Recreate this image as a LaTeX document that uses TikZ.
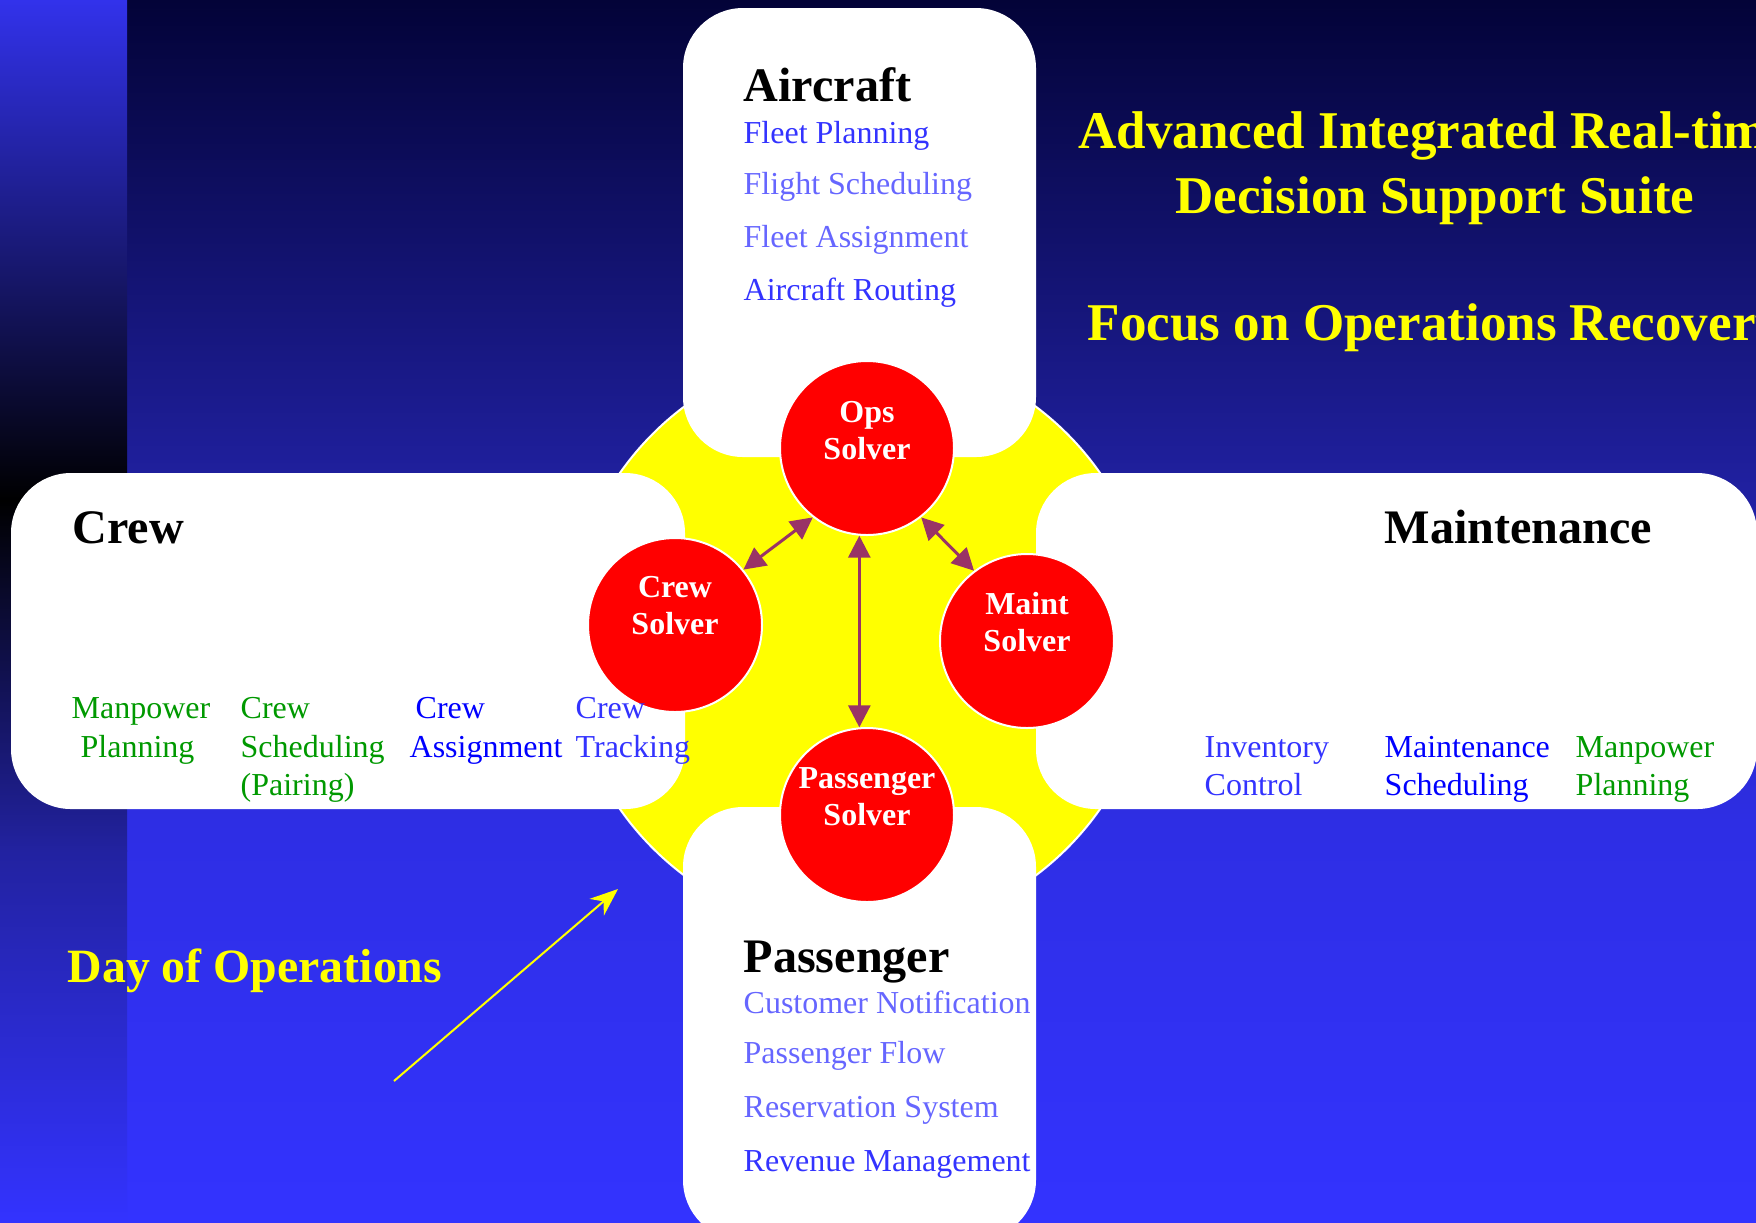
\documentclass[tikz,border=0pt]{standalone}
\usepackage{fontspec}
\setmainfont{Liberation Serif}
\usetikzlibrary{arrows.meta}

\definecolor{navytop}{RGB}{3,3,56}
\definecolor{navymid}{RGB}{31,31,156}
\definecolor{bluelow}{RGB}{46,46,228}
\definecolor{bluebot}{RGB}{51,51,255}
\definecolor{striptop}{RGB}{50,50,235}
\definecolor{stripmid}{RGB}{34,34,160}
\definecolor{hubyellow}{RGB}{255,255,0}
\definecolor{solverred}{RGB}{255,0,0}
\definecolor{linkpurple}{RGB}{153,51,102}
\definecolor{itemblue}{RGB}{51,51,255}
\definecolor{itemlight}{RGB}{102,102,255}
\definecolor{itemdeep}{RGB}{0,0,255}
\definecolor{itemgreen}{RGB}{0,153,0}

\begin{document}
\begin{tikzpicture}[x=0.1mm, y=-0.1mm,
    box/.style={fill=white, rounded corners=6mm},
    solver/.style={circle, fill=solverred, draw=white, line width=0.2mm, minimum size=17.4mm, inner sep=0pt},
    solvertext/.style={text=white, font=\fontsize{9.1}{10.5}\selectfont\bfseries, align=center},
    boxtitle/.style={anchor=base west, inner sep=0pt, font=\fontsize{13.7}{16}\selectfont\bfseries},
    item/.style={anchor=base west, inner sep=0pt, font=\fontsize{9.1}{11}\selectfont},
    headline/.style={anchor=base, inner sep=0pt, text=hubyellow, font=\fontsize{15.1}{18.5}\selectfont\bfseries},
    link/.style={{Triangle[length=2.2mm,width=2.2mm]}-{Triangle[length=2.2mm,width=2.2mm]}, line width=0.3mm, draw=linkpurple},
    dayarrow/.style={-{Stealth[length=2.8mm,width=2.2mm,inset=0.9mm]}, line width=0.2mm, draw=hubyellow, fill=hubyellow}]

    % Picture frame
    \useasboundingbox (0,0) rectangle (1756,1222);
    \clip (0,0) rectangle (1756,1222);

    % Background, main area
    \shade[top color=navytop, bottom color=navymid] (127,0) rectangle (1756,471);
    \shade[top color=navymid, bottom color=bluelow] (127,470) rectangle (1756,821);
    \shade[top color=bluelow, bottom color=bluebot] (127,820) rectangle (1756,1222);

    % Background, left strip
    \shade[top color=striptop, bottom color=black] (0,0) rectangle (127,501);
    \shade[top color=black, bottom color=stripmid] (0,500) rectangle (127,851);
    \shade[top color=stripmid, bottom color=bluebot] (0,850) rectangle (127,1222);

    % Yellow hub behind the boxes
    \draw[fill=hubyellow, draw=white, line width=0.2mm] (860,641) circle [radius=29.3mm];

    % The four boxes
    \fill[box] (683,8) rectangle (1036,457);      % aircraft
    \fill[box] (11,473) rectangle (685,809);      % crew
    \fill[box] (1036,473) rectangle (1757,809);   % maintenance
    \fill[box] (683,807) rectangle (1036,1240);   % passenger

    % Solvers
    \node[solver] (opssolver) at (867,448) {};
    \node[solver] (crewsolver) at (675,625) {};
    \node[solver] (maintsolver) at (1027,641) {};
    \node[solver] (passsolver) at (867,815) {};

    \node[solvertext] (opslabel) at ([yshift=1.7mm]opssolver.center) {Ops\\Solver};
    \node[solvertext] (crewlabel) at ([yshift=1.9mm]crewsolver.center) {Crew\\Solver};
    \node[solvertext] (maintlabel) at ([yshift=1.9mm]maintsolver.center) {Maint\\Solver};
    \node[solvertext] (passlabel) at ([yshift=1.8mm]passsolver.center) {Passenger\\Solver};

    % Links between solvers
    \draw[link] (crewsolver.39) -- (opssolver.232);
    \draw[link] (opssolver.308) -- (maintsolver.127);
    \draw[link] (opssolver.265) -- (passsolver.95);

    % Box titles
    \node[boxtitle] (aircrafttitle) at (743,101) {Aircraft};
    \node[boxtitle] (crewtitle) at (72,543) {Crew};
    \node[boxtitle] (mainttitle) at (1384,543) {Maintenance};
    \node[boxtitle] (passtitle) at (743,972) {Passenger};

    % Aircraft list
    \foreach \txt/\yy/\col [count=\i] in {Fleet Planning/143/itemblue, Flight Scheduling/194/itemlight,
        Fleet Assignment/247/itemlight, Aircraft Routing/300/itemblue}
        \node[item, text=\col] (aircraftitem\i) at (743,\yy) {\txt};

    % Passenger list
    \foreach \txt/\yy/\col [count=\i] in {Customer Notification/1013/itemlight, Passenger Flow/1063/itemlight,
        Reservation System/1117/itemlight, Revenue Management/1171/itemblue}
        \node[item, text=\col] (passitem\i) at (743,\yy) {\txt};

    % Crew columns
    \foreach \txt/\xx/\yy/\col [count=\i] in {Manpower/71/718/itemgreen, Planning/80/757/itemgreen,
        Crew/240/718/itemgreen, Scheduling/240/757/itemgreen, {(Pairing)}/240/795/itemgreen,
        Crew/415/718/itemdeep, Assignment/409/757/itemdeep,
        Crew/575/718/itemblue, Tracking/575/757/itemblue}
        \node[item, text=\col] (crewitem\i) at (\xx,\yy) {\txt};

    % Maintenance columns
    \foreach \txt/\xx/\yy/\col [count=\i] in {Inventory/1204/757/itemblue, Control/1204/795/itemblue,
        Maintenance/1384/757/itemdeep, Scheduling/1384/795/itemdeep,
        Manpower/1575/757/itemgreen, Planning/1575/795/itemgreen}
        \node[item, text=\col] (maintitem\i) at (\xx,\yy) {\txt};

    % Headlines
    \node[headline] (suiteline1) at (1435,148) {Advanced Integrated Real-time};
    \node[headline] (suiteline2) at (1435,213) {Decision Support Suite};
    \node[headline] (focusline) at (1435,340) {Focus on Operations Recovery};

    % Day of operations
    \node[anchor=base west, inner sep=0pt, text=hubyellow, font=\fontsize{13.6}{16}\selectfont\bfseries] (daylabel) at (67,982) {Day of Operations};
    \coordinate (daytail) at (394,1081);
    \coordinate (daytip) at (618,889);
    \draw[dayarrow] (daytail) -- (daytip);
\end{tikzpicture}
\end{document}
